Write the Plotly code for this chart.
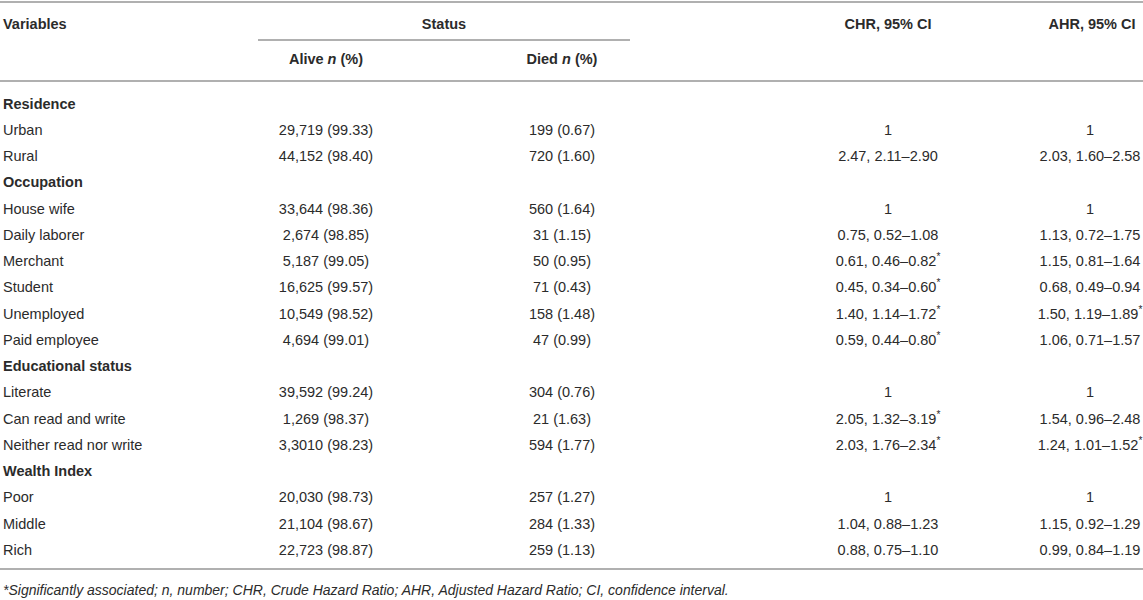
import plotly.graph_objects as go

# table content
variables = ["Residence", "Urban", "Rural",
             "Occupation", "House wife", "Daily laborer", "Merchant", "Student", "Unemployed", "Paid employee",
             "Educational status", "Literate", "Can read and write", "Neither read nor write",
             "Wealth Index", "Poor", "Middle", "Rich"]
is_section = [True, False, False,
              True, False, False, False, False, False, False,
              True, False, False, False,
              True, False, False, False]
alive = ["", "29,719 (99.33)", "44,152 (98.40)",
         "", "33,644 (98.36)", "2,674 (98.85)", "5,187 (99.05)", "16,625 (99.57)", "10,549 (98.52)", "4,694 (99.01)",
         "", "39,592 (99.24)", "1,269 (98.37)", "3,3010 (98.23)",
         "", "20,030 (98.73)", "21,104 (98.67)", "22,723 (98.87)"]
died = ["", "199 (0.67)", "720 (1.60)",
        "", "560 (1.64)", "31 (1.15)", "50 (0.95)", "71 (0.43)", "158 (1.48)", "47 (0.99)",
        "", "304 (0.76)", "21 (1.63)", "594 (1.77)",
        "", "257 (1.27)", "284 (1.33)", "259 (1.13)"]
chr_ci = ["", "1", "2.47, 2.11–2.90",
          "", "1", "0.75, 0.52–1.08", "0.61, 0.46–0.82*", "0.45, 0.34–0.60*", "1.40, 1.14–1.72*", "0.59, 0.44–0.80*",
          "", "1", "2.05, 1.32–3.19*", "2.03, 1.76–2.34*",
          "", "1", "1.04, 0.88–1.23", "0.88, 0.75–1.10"]
ahr_ci = ["", "1", "2.03, 1.60–2.58",
          "", "1", "1.13, 0.72–1.75", "1.15, 0.81–1.64", "0.68, 0.49–0.94", "1.50, 1.19–1.89*", "1.06, 0.71–1.57",
          "", "1", "1.54, 0.96–2.48", "1.24, 1.01–1.52*",
          "", "1", "1.15, 0.92–1.29", "0.99, 0.84–1.19"]
footnote = ("*Significantly associated; n, number; CHR, Crude Hazard Ratio; "
            "AHR, Adjusted Hazard Ratio; CI, confidence interval.")

W, H = 1143, 600
FONT = "Liberation Sans, Arial, sans-serif"
TXT = "#2b2b2b"
RULE = "#b0b0b0"
FS = 14.5

row0, row_h = 105, 26.25
row_y = [row0 + i * row_h for i in range(len(variables))]
col_x = {"var": 3, "alive": 326, "died": 562, "chr": 888, "ahr": 1090}


def star(s):
    return s.replace("*", "<sup>*</sup>")


def text_trace(xs, ys, texts, pos, size=FS):
    return go.Scatter(x=xs, y=ys, text=texts, mode="text", textposition=pos,
                      textfont=dict(family=FONT, size=size, color=TXT),
                      hoverinfo="skip", cliponaxis=False)


fig = go.Figure()

# first column
fig.add_trace(text_trace(
    [col_x["var"]] * len(variables), row_y,
    [f"<b>{v}</b>" if s else v for v, s in zip(variables, is_section)],
    "middle right"))

# value columns (section rows have no values)
for key, vals in [("alive", alive), ("died", died), ("chr", chr_ci), ("ahr", ahr_ci)]:
    ys = [y for y, v in zip(row_y, vals) if v]
    ts = [star(v) for v in vals if v]
    fig.add_trace(text_trace([col_x[key]] * len(ys), ys, ts, "middle center"))

# headers
headers = [
    (col_x["var"], 25, "<b>Variables</b>", "middle right"),
    (444, 25, "<b>Status</b>", "middle center"),
    (888, 25, "<b>CHR, 95% CI</b>", "middle center"),
    (1092, 25, "<b>AHR, 95% CI</b>", "middle center"),
    (col_x["alive"], 60, "<b>Alive <i>n</i> (%)</b>", "middle center"),
    (col_x["died"], 60, "<b>Died <i>n</i> (%)</b>", "middle center"),
]
for hx, hy, ht, hp in headers:
    fig.add_trace(text_trace([hx], [hy], [ht], hp))

# footnote
fig.add_trace(text_trace([col_x["var"]], [591], [f"<i>{footnote}</i>"],
                         "middle right", size=14))

# rules
for x0, x1, y in [(0, W, 2), (258, 630, 40), (0, W, 81), (0, W, 569)]:
    fig.add_shape(type="line", x0=x0, x1=x1, y0=y, y1=y,
                  line=dict(color=RULE, width=2), layer="below")

fig.update_layout(
    width=W, height=H,
    margin=dict(l=0, r=0, t=0, b=0),
    paper_bgcolor="white", plot_bgcolor="white",
    showlegend=False,
    xaxis=dict(range=[0, W], visible=False, fixedrange=True),
    yaxis=dict(range=[H, 0], visible=False, fixedrange=True),
)

fig.write_html("out.html", config={"displayModeBar": False},
               post_script="document.body.style.margin = '0';")
